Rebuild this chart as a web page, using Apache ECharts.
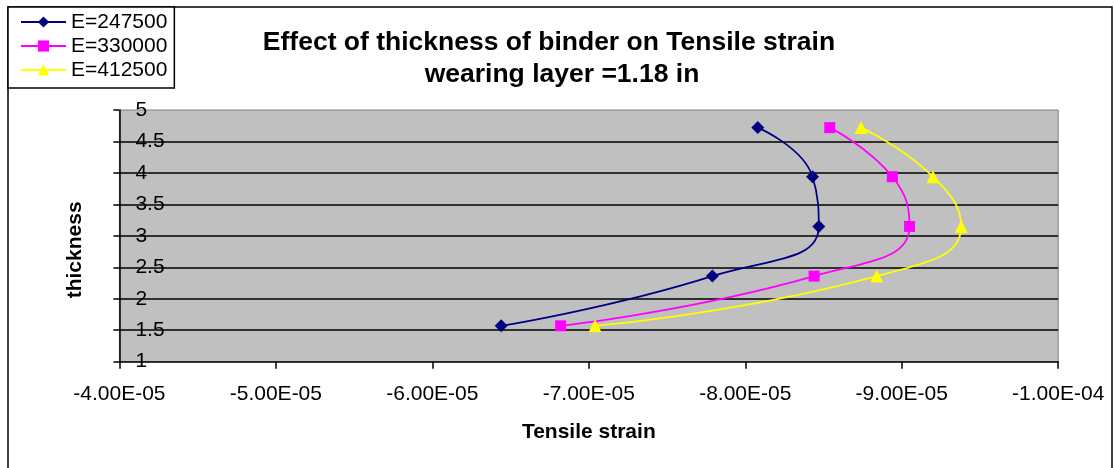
<!DOCTYPE html>
<html>
<head>
<meta charset="utf-8">
<script src="https://cdn.jsdelivr.net/npm/echarts@6/dist/echarts.min.js"></script>
<style>html,body{margin:0;padding:0;background:#fff}#c{width:1115px;height:468px}</style>
</head>
<body>
<div id="c"></div>
<script>
var thickness = [1.57, 2.36, 3.15, 3.94, 4.72];
var strainE247500 = [-6.44e-5, -7.79e-5, -8.47e-5, -8.43e-5, -8.08e-5];
var strainE330000 = [-6.82e-5, -8.44e-5, -9.05e-5, -8.94e-5, -8.54e-5];
var strainE412500 = [-7.04e-5, -8.84e-5, -9.38e-5, -9.20e-5, -8.74e-5];
var seriesNames = ['E=247500', 'E=330000', 'E=412500'];
var seriesColors = ['#000080', '#FF00FF', '#FFFF00'];
var seriesSymbols = ['diamond', 'rect', 'triangle'];
var titleLines = ['Effect of thickness of binder on Tensile strain', 'wearing layer =1.18 in'];

var FONT = '"Liberation Sans", Arial, sans-serif';
function pairs(xs) { return xs.map(function (x, i) { return [x, thickness[i]]; }); }
function fmtExp(v) {
  var s = Number(v).toExponential(2).toUpperCase();
  return s.replace(/E([+-])(\d)$/, 'E$10$2');
}
var allStrains = [strainE247500, strainE330000, strainE412500];
var symbolSizes = { diamond: 13, rect: 11, triangle: 13 };
var series = allStrains.map(function (arr, i) {
  return {
    name: seriesNames[i], type: 'line', data: pairs(arr), smooth: 0.5,
    symbol: seriesSymbols[i], symbolSize: symbolSizes[seriesSymbols[i]],
    lineStyle: { color: seriesColors[i], width: 1.75 },
    itemStyle: { color: seriesColors[i] }
  };
});
var titleStyle = { fontFamily: FONT, fontSize: 26.5, fontWeight: 'bold', color: '#000', lineHeight: 32 };

var chart = echarts.init(document.getElementById('c'), null, { renderer: 'canvas' });
chart.setOption({
  backgroundColor: '#fff',
  animation: false,
  title: [
    { text: titleLines[0], left: 549, top: 27, textAlign: 'center', padding: 0, textStyle: titleStyle },
    { text: titleLines[1], left: 562, top: 59, textAlign: 'center', padding: 0, textStyle: titleStyle }
  ],
  legend: {
    orient: 'vertical', left: 8, top: 7,
    data: seriesNames,
    itemWidth: 45, itemHeight: 14, itemGap: 2,
    padding: [4, 7, 7, 12],
    borderColor: '#000', borderWidth: 1.5, backgroundColor: '#fff', borderRadius: 0,
    textStyle: { fontFamily: FONT, fontSize: 21, color: '#000', lineHeight: 22 }
  },
  graphic: [{
    type: 'rect', shape: { x: 8, y: 7, width: 1104, height: 480 },
    style: { fill: 'none', stroke: '#000', lineWidth: 1.5 }, z: -1
  }],
  grid: {
    left: 119.4, right: 56.8, top: 110, bottom: 106.3,
    show: true, backgroundColor: '#C0C0C0', borderColor: '#808080', borderWidth: 1
  },
  xAxis: {
    type: 'value', inverse: true, min: -1e-4, max: -4e-5, interval: 1e-5,
    name: 'Tensile strain', nameLocation: 'middle', nameGap: 60,
    nameTextStyle: { fontFamily: FONT, fontSize: 21, fontWeight: 'bold', color: '#000' },
    axisLine: { show: true, lineStyle: { color: '#000', width: 1.5 } },
    axisTick: { show: true, length: 7, lineStyle: { color: '#000', width: 1.5 } },
    axisLabel: { fontFamily: FONT, fontSize: 21, color: '#000', margin: 22, formatter: fmtExp },
    splitLine: { show: false }
  },
  yAxis: {
    type: 'value', min: 1, max: 5, interval: 0.5,
    name: 'thickness', nameLocation: 'middle', nameGap: 34, nameRotate: 90,
    nameTextStyle: { fontFamily: FONT, fontSize: 21, fontWeight: 'bold', color: '#000', padding: [0, 28, 0, 0] },
    axisLine: { show: true, lineStyle: { color: '#000', width: 1.5 } },
    axisTick: { show: true, inside: false, length: 6, lineStyle: { color: '#000', width: 1.5 } },
    axisLabel: { inside: true, margin: 16, fontFamily: FONT, fontSize: 21, color: '#000' },
    splitLine: { show: true, showMinLine: false, showMaxLine: false, lineStyle: { color: '#000', width: 1.5 } }
  },
  series: series
});
</script>
</body>
</html>
